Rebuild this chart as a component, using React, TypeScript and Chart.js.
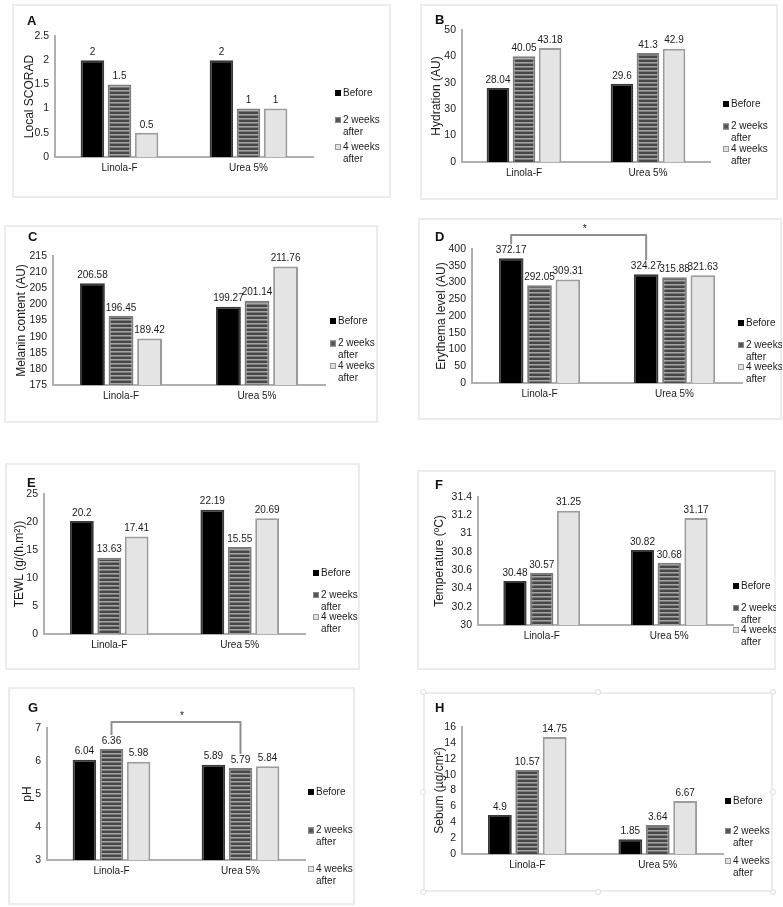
import React, { useEffect, useRef } from "react";
import { Chart, registerables } from "chart.js";
Chart.register(...registerables);

const FONT = '"Liberation Sans", Arial, sans-serif';

const categories = ["Linola-F", "Urea 5%"];
const seriesLabels = ["Before", "2 weeks after", "4 weeks after"];
const legendLines = [["Before"], ["2 weeks", "after"], ["4 weeks", "after"]];

// A – Local SCORAD
const scoradBefore = [2, 2];
const scorad2w = [1.5, 1];
const scorad4w = [0.5, 1];
const scoradTicks = [0, 0.5, 1, 1.5, 2, 2.5];
const scoradTickLabels = ["0", "0.5", "1", "1.5", "2", "2.5"];

// B – Hydration
const hydrationBefore = [28.04, 29.6];
const hydration2w = [40.05, 41.3];
const hydration4w = [43.18, 42.9];
const hydrationTicks = [0, 5, 10, 15, 20, 25, 30, 35, 40, 45, 50];
const hydrationTickLabels = ["0", "5", "10", "15", "30", "25", "30", "35", "40", "45", "50"];

// C – Melanin
const melaninBefore = [206.58, 199.27];
const melanin2w = [196.45, 201.14];
const melanin4w = [189.42, 211.76];
const melaninTicks = [175, 180, 185, 190, 195, 200, 205, 210, 215];
const melaninTickLabels = ["175", "180", "185", "190", "195", "200", "205", "210", "215"];

// D – Erythema
const erythemaBefore = [372.17, 324.27];
const erythema2w = [292.05, 315.88];
const erythema4w = [309.31, 321.63];
const erythemaTicks = [0, 50, 100, 150, 200, 250, 300, 350, 400];
const erythemaTickLabels = ["0", "50", "100", "150", "200", "250", "300", "350", "400"];

// E – TEWL
const tewlBefore = [20.2, 22.19];
const tewl2w = [13.63, 15.55];
const tewl4w = [17.41, 20.69];
const tewlTicks = [0, 5, 10, 15, 20, 25];
const tewlTickLabels = ["0", "5", "10", "15", "20", "25"];

// F – Temperature
const tempBefore = [30.48, 30.82];
const temp2w = [30.57, 30.68];
const temp4w = [31.25, 31.17];
const tempTicks = [30, 30.2, 30.4, 30.6, 30.8, 31, 31.2, 31.4];
const tempTickLabels = ["30", "30.2", "30.4", "30.6", "30.8", "31", "31.2", "31.4"];

// G – pH
const phBefore = [6.04, 5.89];
const ph2w = [6.36, 5.79];
const ph4w = [5.98, 5.84];
const phTicks = [3, 4, 5, 6, 7];
const phTickLabels = ["3", "4", "5", "6", "7"];

// H – Sebum
const sebumBefore = [4.9, 1.85];
const sebum2w = [10.57, 3.64];
const sebum4w = [14.75, 6.67];
const sebumTicks = [0, 2, 4, 6, 8, 10, 12, 14, 16];
const sebumTickLabels = ["0", "2", "4", "6", "8", "10", "12", "14", "16"];

type Rect = { x: number; y: number; w: number; h: number };
type Plot = { l: number; t: number; r: number; b: number };
type PanelCfg = {
  letter: string;
  title: string;
  series: number[][];
  ticks: number[];
  tickLabels: string[];
  box: Rect;
  plot: Plot;
  titleX: number;
  letterPos: { x: number; y: number };
  legend: { x: number; y: number; gap: number };
  bracket?: { ds: number; above: number };
  handles?: boolean;
};

const panels: PanelCfg[] = [
  {
    letter: "A", title: "Local SCORAD",
    series: [scoradBefore, scorad2w, scorad4w], ticks: scoradTicks, tickLabels: scoradTickLabels,
    box: { x: 12, y: 4, w: 379, h: 194 }, plot: { l: 55, t: 36, r: 313, b: 157 }, titleX: 30,
    letterPos: { x: 27, y: 14 }, legend: { x: 335, y: 93, gap: 27 },
  },
  {
    letter: "B", title: "Hydration (AU)",
    series: [hydrationBefore, hydration2w, hydration4w], ticks: hydrationTicks, tickLabels: hydrationTickLabels,
    box: { x: 420, y: 4, w: 358, h: 196 }, plot: { l: 462, t: 30, r: 710, b: 162 }, titleX: 437,
    letterPos: { x: 435, y: 13 }, legend: { x: 723, y: 104, gap: 22.5 },
  },
  {
    letter: "C", title: "Melanin content (AU)",
    series: [melaninBefore, melanin2w, melanin4w], ticks: melaninTicks, tickLabels: melaninTickLabels,
    box: { x: 4, y: 225, w: 374, h: 198 }, plot: { l: 53, t: 256, r: 325, b: 385 }, titleX: 22,
    letterPos: { x: 28, y: 230 }, legend: { x: 330, y: 321, gap: 22.5 },
  },
  {
    letter: "D", title: "Erythema level (AU)",
    series: [erythemaBefore, erythema2w, erythema4w], ticks: erythemaTicks, tickLabels: erythemaTickLabels,
    box: { x: 418, y: 218, w: 364, h: 202 }, plot: { l: 472, t: 249, r: 742, b: 383 }, titleX: 442,
    letterPos: { x: 435, y: 230 }, legend: { x: 738, y: 323, gap: 22 },
    bracket: { ds: 0, above: 14 },
  },
  {
    letter: "E", title: "TEWL (g/(h.m²))",
    series: [tewlBefore, tewl2w, tewl4w], ticks: tewlTicks, tickLabels: tewlTickLabels,
    box: { x: 5, y: 463, w: 355, h: 207 }, plot: { l: 44, t: 494, r: 305, b: 634 }, titleX: 20,
    letterPos: { x: 27, y: 476 }, legend: { x: 313, y: 573, gap: 22 },
  },
  {
    letter: "F", title: "Temperature (ºC)",
    series: [tempBefore, temp2w, temp4w], ticks: tempTicks, tickLabels: tempTickLabels,
    box: { x: 417, y: 470, w: 359, h: 200 }, plot: { l: 478, t: 497, r: 733, b: 625 }, titleX: 440,
    letterPos: { x: 435, y: 478 }, legend: { x: 733, y: 586, gap: 22 },
  },
  {
    letter: "G", title: "pH",
    series: [phBefore, ph2w, ph4w], ticks: phTicks, tickLabels: phTickLabels,
    box: { x: 8, y: 687, w: 347, h: 218 }, plot: { l: 47, t: 728, r: 305, b: 860 }, titleX: 28,
    letterPos: { x: 28, y: 701 }, legend: { x: 308, y: 792, gap: 38.5 },
    bracket: { ds: 1, above: 6 },
  },
  {
    letter: "H", title: "Sebum (µg/cm²)",
    series: [sebumBefore, sebum2w, sebum4w], ticks: sebumTicks, tickLabels: sebumTickLabels,
    box: { x: 423, y: 692, w: 350, h: 200 }, plot: { l: 462, t: 727, r: 723, b: 854 }, titleX: 440,
    letterPos: { x: 435, y: 701 }, legend: { x: 725, y: 801, gap: 30 },
    handles: true,
  },
];

const X_AXIS_H = 20;
const TITLE_SIZE = 12;

function makeStripe(): CanvasPattern | string {
  const c = document.createElement("canvas");
  c.width = 4;
  c.height = 4;
  const g = c.getContext("2d");
  if (!g) return "#666";
  g.fillStyle = "#474747";
  g.fillRect(0, 0, 4, 4);
  g.fillStyle = "#a4a4a4";
  g.fillRect(0, 2, 4, 1);
  g.fillStyle = "#7a7a7a";
  g.fillRect(0, 3, 4, 1);
  const p = g.createPattern(c, "repeat");
  return p || "#666";
}

function Panel({ cfg }: { cfg: PanelCfg }) {
  const ref = useRef<HTMLCanvasElement>(null);

  useEffect(() => {
    const canvas = ref.current;
    if (!canvas) return;
    const stripe = makeStripe();
    const { box, plot } = cfg;
    const scaleLeft = cfg.titleX - (TITLE_SIZE * 1.2) / 2;
    const yW = plot.l - scaleLeft;
    const pad = {
      left: scaleLeft - box.x,
      top: plot.t - box.y,
      right: box.x + box.w - plot.r,
      bottom: box.y + box.h - plot.b - X_AXIS_H,
    };

    const valueLabels = {
      id: "valueLabels",
      afterDatasetsDraw(chart: any) {
        const ctx = chart.ctx;
        ctx.save();
        ctx.font = `10px ${FONT}`;
        ctx.fillStyle = "#1a1a1a";
        ctx.textAlign = "center";
        ctx.textBaseline = "bottom";
        chart.data.datasets.forEach((ds: any, i: number) => {
          chart.getDatasetMeta(i).data.forEach((el: any, j: number) => {
            ctx.fillText(String(ds.data[j]), el.x, el.y - 3);
          });
        });
        ctx.restore();
      },
    };

    const customLegend = {
      id: "customLegend",
      afterDraw(chart: any) {
        const ctx = chart.ctx;
        ctx.save();
        const lx = cfg.legend.x - box.x;
        const ly0 = cfg.legend.y - box.y;
        ctx.font = `10px ${FONT}`;
        ctx.textAlign = "left";
        ctx.textBaseline = "middle";
        legendLines.forEach((lines, i) => {
          const y = ly0 + i * cfg.legend.gap;
          const s = 6;
          if (i === 0) {
            ctx.fillStyle = "#000";
            ctx.fillRect(lx, y - s / 2, s, s);
          } else if (i === 1) {
            ctx.fillStyle = "#555";
            ctx.fillRect(lx, y - s / 2, s, s);
            ctx.strokeStyle = "#888";
            ctx.lineWidth = 1;
            ctx.strokeRect(lx + 0.5, y - s / 2 + 0.5, s - 1, s - 1);
          } else {
            ctx.fillStyle = "#e2e2e2";
            ctx.fillRect(lx, y - s / 2, s, s);
            ctx.strokeStyle = "#999";
            ctx.lineWidth = 1;
            ctx.strokeRect(lx + 0.5, y - s / 2 + 0.5, s - 1, s - 1);
          }
          ctx.fillStyle = "#1a1a1a";
          lines.forEach((t, k) => ctx.fillText(t, lx + 8, y + k * 12));
        });
        ctx.restore();
      },
    };

    const bracketPlugin = {
      id: "bracket",
      afterDraw(chart: any) {
        if (!cfg.bracket) return;
        const meta = chart.getDatasetMeta(cfg.bracket.ds);
        const a = meta.data[0];
        const b = meta.data[1];
        const top = chart.chartArea.top - cfg.bracket.above;
        const ctx = chart.ctx;
        ctx.save();
        ctx.strokeStyle = "#8f8f8f";
        ctx.lineWidth = 2;
        ctx.lineJoin = "round";
        ctx.beginPath();
        ctx.moveTo(a.x, a.y - 14);
        ctx.lineTo(a.x, top);
        ctx.lineTo(b.x, top);
        ctx.lineTo(b.x, b.y - 14);
        ctx.stroke();
        ctx.fillStyle = "#222";
        ctx.font = `10px ${FONT}`;
        ctx.textAlign = "center";
        ctx.textBaseline = "middle";
        ctx.fillText("*", (a.x + b.x) / 2 + 6, top - 6);
        ctx.restore();
      },
    };

    const tickFont = { family: FONT, size: 10.5 };
    const chart = new Chart(canvas, {
      type: "bar",
      data: {
        labels: categories,
        datasets: cfg.series.map((data, i) => ({
          label: seriesLabels[i],
          data,
          backgroundColor: ["#000000", stripe, "#e4e4e4"][i] as any,
          borderColor: ["#3a3a3a", "#7c7c7c", "#9c9c9c"][i],
          borderWidth: 2,
          categoryPercentage: 0.63,
          barPercentage: 0.87,
        })),
      },
      options: {
        responsive: false,
        animation: false,
        devicePixelRatio: 1,
        layout: { padding: pad },
        plugins: { legend: { display: false }, tooltip: { enabled: false } },
        scales: {
          x: {
            grid: { display: false, drawTicks: false },
            border: { display: true, color: "#b0b0b0", width: 2 },
            ticks: { font: { family: FONT, size: 10 }, color: "#1a1a1a", padding: 5 },
            afterFit: (s: any) => {
              s.height = X_AXIS_H;
            },
          },
          y: {
            min: cfg.ticks[0],
            max: cfg.ticks[cfg.ticks.length - 1],
            grid: { display: false, drawTicks: false },
            border: { display: true, color: "#b0b0b0", width: 2 },
            ticks: {
              font: tickFont,
              color: "#1a1a1a",
              padding: 6,
              callback: (_v: any, i: number) => cfg.tickLabels[i],
            },
            afterBuildTicks: (s: any) => {
              s.ticks = cfg.ticks.map((v) => ({ value: v }));
            },
            afterFit: (s: any) => {
              s.width = yW;
            },
            title: {
              display: true,
              text: cfg.title,
              font: { family: FONT, size: TITLE_SIZE },
              color: "#1a1a1a",
              padding: 0,
            },
          },
        },
      },
      plugins: [valueLabels, customLegend, bracketPlugin],
    } as any);
    return () => chart.destroy();
  }, [cfg]);

  const { box } = cfg;
  const handlePts = [
    [0, 0], [0.5, 0], [1, 0], [0, 0.5], [1, 0.5], [0, 1], [0.5, 1], [1, 1],
  ];
  return (
    <>
      <div
        style={{
          position: "absolute",
          left: box.x,
          top: box.y,
          width: box.w,
          height: box.h,
          boxSizing: "border-box",
          border: "2px solid #ececec",
        }}
      />
      <canvas
        ref={ref}
        width={box.w}
        height={box.h}
        style={{ position: "absolute", left: box.x, top: box.y, width: box.w, height: box.h, display: "block" }}
      />
      <div
        style={{
          position: "absolute",
          left: cfg.letterPos.x,
          top: cfg.letterPos.y,
          font: `bold 13px ${FONT}`,
          lineHeight: "1",
          color: "#111",
        }}
      >
        {cfg.letter}
      </div>
      {cfg.handles &&
        handlePts.map(([fx, fy], i) => (
          <div
            key={i}
            style={{
              position: "absolute",
              left: box.x + fx * box.w - 3,
              top: box.y + fy * box.h - 3,
              width: 6,
              height: 6,
              borderRadius: 3,
              boxSizing: "border-box",
              border: "1px solid #dcdcdc",
              background: "#fff",
            }}
          />
        ))}
    </>
  );
}

export default function App() {
  return (
    <div
      style={{
        position: "absolute",
        left: 0,
        top: 0,
        width: 783,
        height: 907,
        background: "#fff",
        overflow: "hidden",
      }}
    >
      {panels.map((p) => (
        <Panel key={p.letter} cfg={p} />
      ))}
    </div>
  );
}
